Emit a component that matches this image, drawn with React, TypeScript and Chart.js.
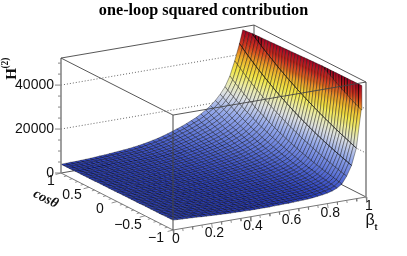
import React, { useEffect, useRef } from "react";
import { Chart, registerables } from "chart.js";
Chart.register(...registerables);

const betaValues = [0,0.025,0.05,0.075,0.1,0.125,0.15,0.175,0.2,0.225,0.25,0.275,0.3,0.325,0.35,0.375,0.4,0.425,0.45,0.475,0.5,0.525,0.55,0.575,0.6,0.625,0.65,0.675,0.7,0.725,0.75,0.775,0.8,0.825,0.85,0.875,0.9,0.925,0.95,0.975,1];
const cosValues = [-1,-0.95,-0.9,-0.85,-0.8,-0.75,-0.7,-0.65,-0.6,-0.55,-0.5,-0.45,-0.4,-0.35,-0.3,-0.25,-0.2,-0.15,-0.1,-0.05,0,0.05,0.1,0.15,0.2,0.25,0.3,0.35,0.4,0.45,0.5,0.55,0.6,0.65,0.7,0.75,0.8,0.85,0.9,0.95,1];
// H(2) in hundreds; one row per beta value, one column per cos value
const zRows = [
[45,45,45,45,44, 44,44,44,44,44, 44,44,43,43,43, 43,43,43,43,43, 42,42,42,42,42, 42,42,42,41,41, 41,41,41,41,41, 41,40,40,40,40, 40],
[44,44,44,44,44, 43,43,43,43,43, 43,43,43,43,43, 42,42,42,42,42, 42,42,42,42,42, 41,41,41,41,41, 41,41,41,41,41, 40,40,40,40,40, 40],
[43,43,43,43,43, 43,43,43,43,43, 42,42,42,42,42, 42,42,42,42,42, 42,42,42,42,42, 42,42,42,42,42, 41,41,41,41,41, 41,41,41,41,41, 41],
[42,42,42,42,42, 42,42,42,42,42, 42,42,42,42,42, 42,42,42,42,42, 41,41,41,41,41, 41,41,41,41,41, 41,41,41,41,41, 41,41,41,41,41, 41],
[41,41,41,41,41, 41,41,41,41,41, 41,41,41,41,41, 41,41,41,41,41, 42,42,42,42,42, 42,42,42,42,42, 42,42,42,42,42, 42,42,42,42,42, 42],
[40,40,40,40,40, 40,40,41,41,41, 41,41,41,41,41, 41,41,41,41,41, 42,42,42,42,42, 42,42,42,42,42, 42,42,42,42,43, 43,43,43,43,43, 43],
[38,38,38,38,39, 39,39,39,39,39, 40,40,40,40,40, 40,40,41,41,41, 41,41,41,41,42, 42,42,42,42,42, 43,43,43,43,43, 43,43,44,44,44, 44],
[37,37,37,38,38, 38,38,38,39,39, 39,39,39,40,40, 40,40,40,41,41, 41,41,41,42,42, 42,42,42,43,43, 43,43,43,44,44, 44,44,44,45,45, 45],
[36,36,37,37,37, 37,38,38,38,38, 39,39,39,40,40, 40,40,41,41,41, 42,42,42,42,43, 43,43,43,44,44, 44,45,45,45,45, 46,46,46,46,47, 47],
[35,35,36,36,36, 37,37,37,38,38, 38,39,39,39,40, 40,40,41,41,41, 42,42,42,43,43, 43,43,44,44,44, 45,45,45,46,46, 46,47,47,47,48, 48],
[34,34,35,35,35, 36,36,36,37,37, 37,38,38,39,39, 39,40,40,41,41, 41,42,42,43,43, 43,44,44,45,45, 45,46,46,47,47, 48,48,49,49,50, 50],
[33,33,34,34,35, 35,35,36,36,36, 37,37,38,38,39, 39,39,40,40,41, 41,42,42,43,43, 44,44,45,45,46, 46,47,47,48,49, 49,50,50,51,51, 52],
[32,32,33,33,34, 34,35,35,36,36, 36,37,37,38,38, 39,39,40,41,41, 42,42,43,43,44, 44,45,46,46,47, 47,48,49,49,50, 51,51,52,53,53, 54],
[32,32,33,33,34, 34,35,35,36,36, 37,37,38,38,39, 39,40,41,41,42, 42,43,44,44,45, 45,46,47,47,48, 49,49,50,51,51, 52,53,54,54,55, 56],
[31,31,32,33,33, 34,34,35,35,36, 36,37,37,38,39, 39,40,41,41,42, 42,43,44,45,45, 46,47,48,48,49, 50,51,52,52,53, 54,55,56,56,57, 58],
[31,32,32,33,33, 34,35,35,36,36, 37,38,38,39,39, 40,41,42,42,43, 43,44,45,46,46, 47,48,49,50,51, 51,52,53,54,55, 56,57,58,59,60, 61],
[30,31,31,32,32, 33,34,34,35,36, 36,37,38,38,39, 40,41,41,42,43, 44,45,46,46,47, 48,49,50,51,52, 53,54,55,56,57, 58,59,61,62,63, 64],
[30,31,31,32,33, 33,34,35,35,36, 37,38,38,39,40, 41,42,43,43,44, 45,46,47,48,49, 50,51,52,54,55, 55,57,58,59,60, 61,63,64,65,67, 68],
[30,31,31,32,33, 34,34,35,36,37, 37,38,39,40,41, 42,43,44,45,46, 46,48,49,50,51, 52,53,54,56,57, 58,59,61,62,63, 65,66,68,69,71, 72],
[30,31,31,32,33, 34,35,35,36,37, 38,39,40,41,42, 43,44,45,46,47, 48,49,50,52,53, 54,55,57,58,60, 61,62,64,65,67, 68,70,72,73,75, 77],
[30,31,32,32,33, 34,35,36,37,38, 39,40,41,42,43, 44,45,46,47,48, 50,51,52,54,55, 56,58,59,61,62, 64,66,67,69,70, 72,74,76,78,80, 82],
[31,32,33,34,34, 35,36,37,38,39, 40,41,42,44,45, 46,47,48,50,51, 52,54,55,57,58, 60,61,63,65,66, 68,70,72,73,75, 77,80,82,84,86, 88],
[31,32,33,34,35, 36,37,38,39,40, 41,42,43,45,46, 47,49,50,52,53, 54,56,58,59,61, 62,64,66,68,70, 72,74,76,78,80, 83,85,87,90,92, 95],
[32,33,34,35,36, 37,38,39,40,41, 43,44,45,47,48, 49,51,52,54,55, 57,59,61,62,64, 66,68,70,72,74, 76,79,81,83,86, 88,91,94,96,99, 102],
[32,33,34,35,36, 37,38,40,41,42, 44,45,46,48,49, 51,53,54,56,58, 59,61,63,65,67, 69,72,74,76,78, 81,84,86,89,92, 94,97,100,104,107, 110],
[33,34,35,36,38, 39,40,41,43,44, 45,47,48,50,52, 53,55,57,59,60, 62,64,66,69,71, 73,76,78,80,83, 86,89,92,95,98, 101,104,107,111,114, 118],
[34,35,36,38,39, 40,41,43,44,46, 47,49,50,52,54, 56,58,60,62,64, 66,68,70,73,75, 77,80,83,85,88, 91,94,97,101,104, 108,111,115,119,123, 127],
[35,36,38,39,40, 42,43,45,46,48, 49,51,53,55,57, 58,60,63,65,67, 69,72,74,77,79, 82,85,88,91,94, 97,101,104,108,112, 116,120,124,128,133, 137],
[36,37,39,40,41, 43,44,46,48,49, 51,53,55,57,59, 61,63,65,68,70, 73,75,78,81,84, 87,90,93,96,100, 103,107,111,115,119, 123,128,132,137,142, 147],
[38,39,41,42,44, 45,47,49,50,52, 54,56,58,60,63, 65,67,70,72,75, 78,81,84,87,90, 93,97,100,104,108, 112,116,120,124,129, 134,139,144,149,154, 160],
[41,43,44,46,47, 49,51,53,55,57, 59,61,63,65,68, 70,73,76,78,81, 84,88,91,94,98, 101,105,109,113,117, 121,126,130,135,140, 145,151,156,162,168, 174],
[44,46,48,49,51, 53,55,57,59,61, 63,66,68,71,73, 76,79,82,85,88, 91,95,99,102,106, 110,114,118,123,127, 132,137,142,147,153, 158,164,170,177,183, 190],
[48,50,52,54,56, 58,60,62,64,67, 69,72,74,77,80, 83,87,90,93,97, 100,104,108,112,116, 121,125,130,135,140, 145,151,156,162,168, 175,181,188,195,202, 210],
[54,56,58,60,63, 65,67,70,72,75, 78,81,84,87,90, 94,97,101,105,109, 113,117,121,126,130, 135,140,146,151,157, 163,169,175,181,188, 195,203,210,218,226, 235],
[63,65,68,70,73, 75,78,81,84,87, 90,93,97,100,104, 108,112,116,120,125, 129,134,139,144,149, 155,160,166,172,178, 185,192,199,206,214, 221,229,238,246,255, 265],
[78,81,84,87,90, 93,96,99,103,106, 110,114,118,122,126, 131,135,140,145,150, 155,161,166,172,178, 185,191,198,205,212, 219,227,235,243,252, 261,270,279,289,299, 310],
[110,113,116,120,124, 128,132,136,140,145, 149,154,159,164,169, 174,180,185,191,197, 203,209,216,223,230, 237,244,252,260,268, 276,285,293,302,312, 322,332,342,353,364, 375],
[155,159,164,168,173, 177,182,187,192,197, 202,208,213,219,225, 231,237,244,250,257, 264,271,279,286,294, 302,310,318,327,336, 345,354,364,373,383, 394,404,415,426,438, 450],
[230,235,240,246,251, 256,262,267,273,279, 285,291,297,304,310, 317,324,331,338,345, 353,360,368,376,384, 392,401,409,418,427, 437,446,456,465,475, 486,496,507,518,529, 540],
[400,407,414,421,428, 436,443,451,459,467, 476,484,492,501,510, 519,528,537,546,556, 566,576,586,596,606, 617,628,639,650,661, 673,685,697,709,721, 734,747,760,773,786, 800],
[1200,1215,1231,1247,1263, 1279,1295,1312,1329,1346, 1363,1381,1398,1416,1434, 1453,1471,1490,1509,1529, 1549,1569,1589,1609,1630, 1651,1672,1694,1716,1738, 1760,1783,1806,1829,1852, 1876,1900,1924,1949,1974, 2000],
];
const zCapHundreds = 510;
const accentRows = [37, 38];
const paletteLevels = [0, 40, 100, 180, 240, 290, 340, 400, 450, 510];
const paletteColors = [[30,40,165],[45,65,190],[92,115,215],[150,170,235],[218,222,228],[236,236,170],[242,232,70],[236,170,40],[212,60,30],[165,5,35]];

const betaTicks = [0, 0.2, 0.4, 0.6, 0.8, 1];
const betaLabels = ["0", "0.2", "0.4", "0.6", "0.8", "1"];
const cosTicks = [1, 0.5, 0, -0.5, -1];
const cosLabels = ["1", "0.5", "0", "−0.5", "−1"];
const zTicks = [0, 200, 400];
const zLabels = ["0", "20000", "40000"];
const zTop = 523;

const proj = (b: number, c: number, z: number) => ({
  x: 173 + 193 * b - 56 * (c + 1),
  y: 230 - 33 * b - 28.5 * (c + 1) - z / 4.55,
});
const colorAt = (z: number) => {
  let i = 0;
  while (i < paletteLevels.length - 2 && z > paletteLevels[i + 1]) i++;
  const t = Math.max(0, Math.min(1, (z - paletteLevels[i]) / (paletteLevels[i + 1] - paletteLevels[i])));
  const a = paletteColors[i], d = paletteColors[i + 1];
  return `rgb(${a.map((v, k) => Math.round(v + (d[k] - v) * t)).join(",")})`;
};
type V = { b: number; c: number; z: number };
const clipCap = (poly: V[]) => {
  const out: V[] = [];
  poly.forEach((p, i) => {
    const q = poly[(i + 1) % poly.length];
    if (p.z <= zCapHundreds) out.push(p);
    if ((p.z <= zCapHundreds) !== (q.z <= zCapHundreds)) {
      const t = (zCapHundreds - p.z) / (q.z - p.z);
      out.push({ b: p.b + (q.b - p.b) * t, c: p.c + (q.c - p.c) * t, z: zCapHundreds });
    }
  });
  return out;
};

const line = (pts: { x: number; y: number }[], color: string, width: number, dash: number[] = []) => ({
  data: pts, showLine: true, fill: false, borderColor: color, borderWidth: width, borderDash: dash,
  pointRadius: 0, clip: false as const,
});

const buildDatasets = () => {
  const front: any[] = [];
  const back: any[] = [];
  const frontC = "#444", axisC = "#777";
  front.push(line([proj(0, -1, 0), proj(0, -1, zTop)], frontC, 1));
  front.push(line([proj(0, -1, zTop), proj(1, -1, zTop)], frontC, 0.9));
  front.push(line([proj(0, -1, zTop), proj(0, 1, zTop)], frontC, 0.9));
  front.push(line([proj(1, -1, 0), proj(1, -1, zTop)], "#888", 1.6));
  front.push(line([proj(0, 1, 0), proj(0, 1, zTop)], "#888", 1.6));
  front.push(line([proj(0, -1, 0), proj(1, -1, 0)], axisC, 1));
  front.push(line([proj(0, -1, 0), proj(0, 1, 0)], axisC, 1));
  for (let i = 0; i <= 20; i++) {
    const b = i * 0.05, len = i % 4 === 0 ? 5 : 3, p = proj(b, -1, 0);
    front.push(line([p, { x: p.x + len * 0.15, y: p.y + len * 0.9 }], axisC, 0.8));
  }
  for (let i = 0; i <= 20; i++) {
    const c = 1 - i * 0.1, len = i % 5 === 0 ? 6 : 3, p = proj(0, c, 0);
    front.push(line([p, { x: p.x - len * 0.9, y: p.y + len * 0.25 }], axisC, 0.8));
  }
  for (let i = 0; i * 50 <= zTop; i++) {
    const len = i % 4 === 0 ? 6 : 3, p = proj(0, 1, i * 50);
    front.push(line([p, { x: p.x - len, y: p.y }], axisC, 0.9));
  }
  accentRows.forEach((r) => {
    const pts: any[] = [];
    cosValues.forEach((c, j) => { if (zRows[r][j] <= zCapHundreds) pts.push(proj(betaValues[r], c, zRows[r][j])); });
    front.push(line(pts, "rgba(0,0,0,0.65)", 0.8));
  });
  const cells: any[] = [];
  for (let i = 0; i < 40; i++) for (let j = 0; j < 40; j++) {
    const poly = clipCap([
      { b: betaValues[i], c: cosValues[j], z: zRows[i][j] },
      { b: betaValues[i + 1], c: cosValues[j], z: zRows[i + 1][j] },
      { b: betaValues[i + 1], c: cosValues[j + 1], z: zRows[i + 1][j + 1] },
      { b: betaValues[i], c: cosValues[j + 1], z: zRows[i][j + 1] },
    ]);
    if (poly.length < 3) continue;
    const pts = poly.map((v) => proj(v.b, v.c, v.z));
    pts.push(pts[0]);
    const zs = poly.map((v) => v.z);
    const lo = Math.min(...zs), hi = Math.max(...zs);
    const mean = zs.reduce((s, v) => s + v, 0) / zs.length;
    const loP = pts[zs.indexOf(lo)], hiP = pts[zs.indexOf(hi)];
    cells.push({
      data: pts, showLine: true, fill: "shape", pointRadius: 0, clip: false as const,
      borderColor: "rgba(0,0,0,0.68)", borderWidth: 0.55,
      backgroundColor: (ctx: any) => {
        const sc = ctx.chart.scales?.y;
        if (hi - lo < 15 || !sc || loP.y - hiP.y < 1) return colorAt(mean);
        const y0 = sc.getPixelForValue(loP.y), y1 = sc.getPixelForValue(hiP.y);
        if (!Number.isFinite(y0) || !Number.isFinite(y1)) return colorAt(mean);
        const g = ctx.chart.ctx.createLinearGradient(0, y0, 0, y1);
        for (let k = 0; k <= 4; k++) g.addColorStop(k / 4, colorAt(lo + (hi - lo) * k / 4));
        return g;
      },
    });
  }
  const gridDash = [1, 2];
  zTicks.slice(1).forEach((z) => {
    back.push(line([proj(0, 1, z), proj(1, 1, z), proj(1, -1, z)], "#555", 0.9, gridDash));
  });
  back.push(line([proj(0, 1, zTop), proj(1, 1, zTop)], frontC, 0.9));
  back.push(line([proj(1, 1, zTop), proj(1, -1, zTop)], frontC, 0.9));
  back.push(line([proj(1, 1, 0), proj(1, 1, zTop)], frontC, 0.9));
  back.push(line([proj(0, 1, 0), proj(1, 1, 0)], frontC, 0.9));
  back.push(line([proj(1, 1, 0), proj(1, -1, 0)], frontC, 0.9));
  return [...front, ...cells, ...back];
};

const textPlugin = {
  id: "axisText",
  afterDraw(chart: any) {
    const { ctx, scales: { x, y } } = chart;
    const put = (s: string, px: number, py: number, font: string, rot = 0, align = "center") => {
      ctx.save();
      ctx.translate(x.getPixelForValue(px), y.getPixelForValue(py));
      ctx.rotate(rot);
      ctx.font = font; ctx.fillStyle = "#111"; ctx.textAlign = align; ctx.textBaseline = "middle";
      ctx.fillText(s, 0, 0);
      ctx.restore();
    };
    const sans = "14px 'Liberation Sans'";
    betaTicks.forEach((b, i) => { const p = proj(b, -1, 0); put(betaLabels[i], p.x + 2.8, p.y + 9.6, sans); });
    cosTicks.forEach((c, i) => { const p = proj(0, c, 0); put(cosLabels[i], p.x - 17 + (i === 0 ? 7 : 0), p.y + 8 + (i === 3 ? 1 : 0), sans); });
    zTicks.forEach((z, i) => { const p = proj(0, 1, z); put(zLabels[i], p.x - 7, p.y, sans, 0, "right"); });
    put("H", 12, 74, "bold 15px 'Liberation Serif'", -Math.PI / 2);
    put("(2)", 6, 63, "bold 9.5px 'Liberation Serif'", -Math.PI / 2);
    put("cosθ", 45.7, 199, "italic bold 14px 'Liberation Serif'", 0.47);
    put("β", 370, 221, "16px 'Liberation Sans'");
    put("t", 376, 228, "bold 9px 'Liberation Sans'");
  },
};

export default function App() {
  const ref = useRef<HTMLCanvasElement>(null);
  useEffect(() => {
    const chart = new Chart(ref.current!, {
      type: "scatter",
      data: { datasets: buildDatasets() },
      plugins: [textPlugin],
      options: {
        animation: false, responsive: false, events: [],
        layout: { padding: 0 },
        scales: {
          x: { type: "linear", min: 0, max: 407, display: false },
          y: { type: "linear", min: 20, max: 256, reverse: true, display: false },
        },
        plugins: {
          legend: { display: false },
          tooltip: { enabled: false },
          title: {
            display: true, text: "one-loop squared contribution", color: "#000",
            padding: { top: 1, bottom: 0 },
            font: { family: "'Liberation Serif'", weight: "bold", size: 16.2, lineHeight: 19 / 16.2 },
          },
        },
      },
    } as any);
    return () => chart.destroy();
  }, []);
  return (
    <div style={{ position: "absolute", left: 0, top: 0 }}>
      <canvas ref={ref} width={407} height={256} style={{ display: "block" }} />
    </div>
  );
}
